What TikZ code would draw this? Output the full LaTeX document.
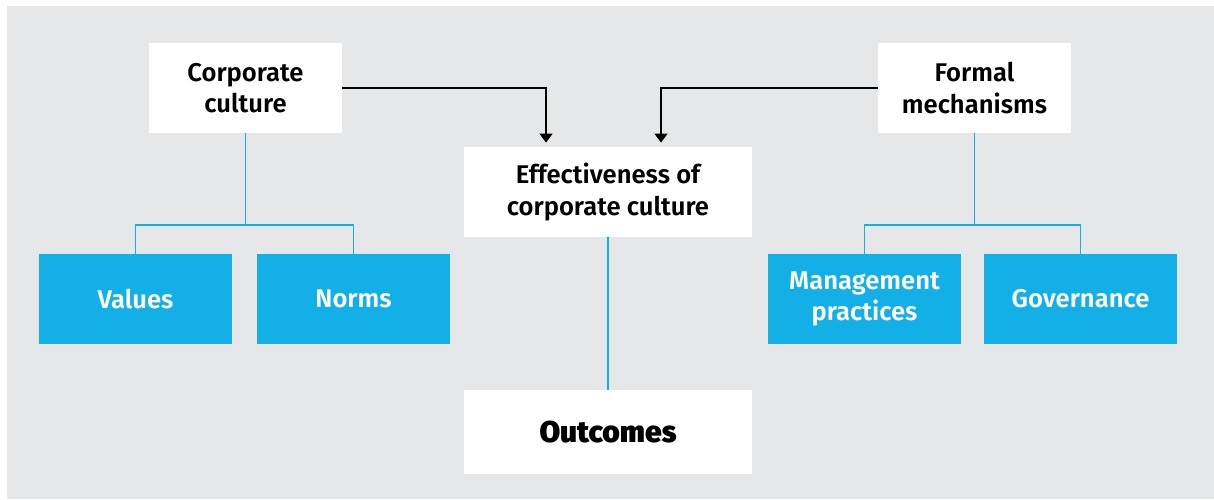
\documentclass[tikz,border=0pt]{standalone}
\usepackage{fontspec}
\setmainfont{Fira Sans}[BoldFont={Fira Sans SemiBold}]
\newfontfamily\heavyfont{Fira Sans Black}
\usetikzlibrary{arrows.meta}

\definecolor{panelgray}{HTML}{E6E7E9}
\definecolor{cultureblue}{HTML}{12B0E6}

\tikzset{white box/.style={fill=white,minimum width=96.5pt,minimum height=45pt,
    inner sep=0pt,align=center,font=\fontsize{12.8}{15.8}\selectfont\bfseries}}
\tikzset{blue box/.style={white box,fill=cultureblue,text=white}}
\tikzset{tree edge/.style={draw=cultureblue,line width=0.65pt}}
\tikzset{feed edge/.style={draw=black,line width=0.65pt,shorten >=2pt,
    -{Triangle[width=6.5pt,length=4.5pt]}}}

\begin{document}
\begin{tikzpicture}[x=0.5pt,y=-0.5pt]
\useasboundingbox (0,0) rectangle (1214,499);
\fill[panelgray] (7,6) rectangle (1214,499);

% top row
\node[white box] (culture) at (245.5,88) {Corporate\\culture};
\node[white box] (formal) at (974.5,88) {Formal\\mechanisms};
\node[white box,minimum width=144pt] (effect) at (608,192) {Effectiveness of\\corporate culture};
\node[white box,minimum width=144pt,minimum height=42pt,font=\fontsize{15}{17}\selectfont\heavyfont] (outcomes) at (608,432) {Outcomes};

% blue leaves
\node[blue box] (values) at (135.5,299) {Values};
\node[blue box] (norms) at (353.5,299) {Norms};
\node[blue box] (practices) at (864.5,299) {Management\\practices};
\node[blue box] (governance) at (1080.5,299) {Governance};

\coordinate (culturesplit) at (245.5,225);
\coordinate (formalsplit) at (974.5,225);

% branches
\draw[tree edge] (culture.south) -- (culturesplit);
\draw[tree edge] (values.north) |- (culturesplit) -| (norms.north);
\draw[tree edge] (formal.south) -- (formalsplit);
\draw[tree edge] (practices.north) |- (formalsplit) -| (governance.north);
\draw[tree edge] (effect.south) -- (outcomes.north);

% feeds into effectiveness
\draw[feed edge] (culture.east) -| ([xshift=-31pt]effect.north);
\draw[feed edge] (formal.west) -| ([xshift=26.5pt]effect.north);
\end{tikzpicture}
\end{document}
